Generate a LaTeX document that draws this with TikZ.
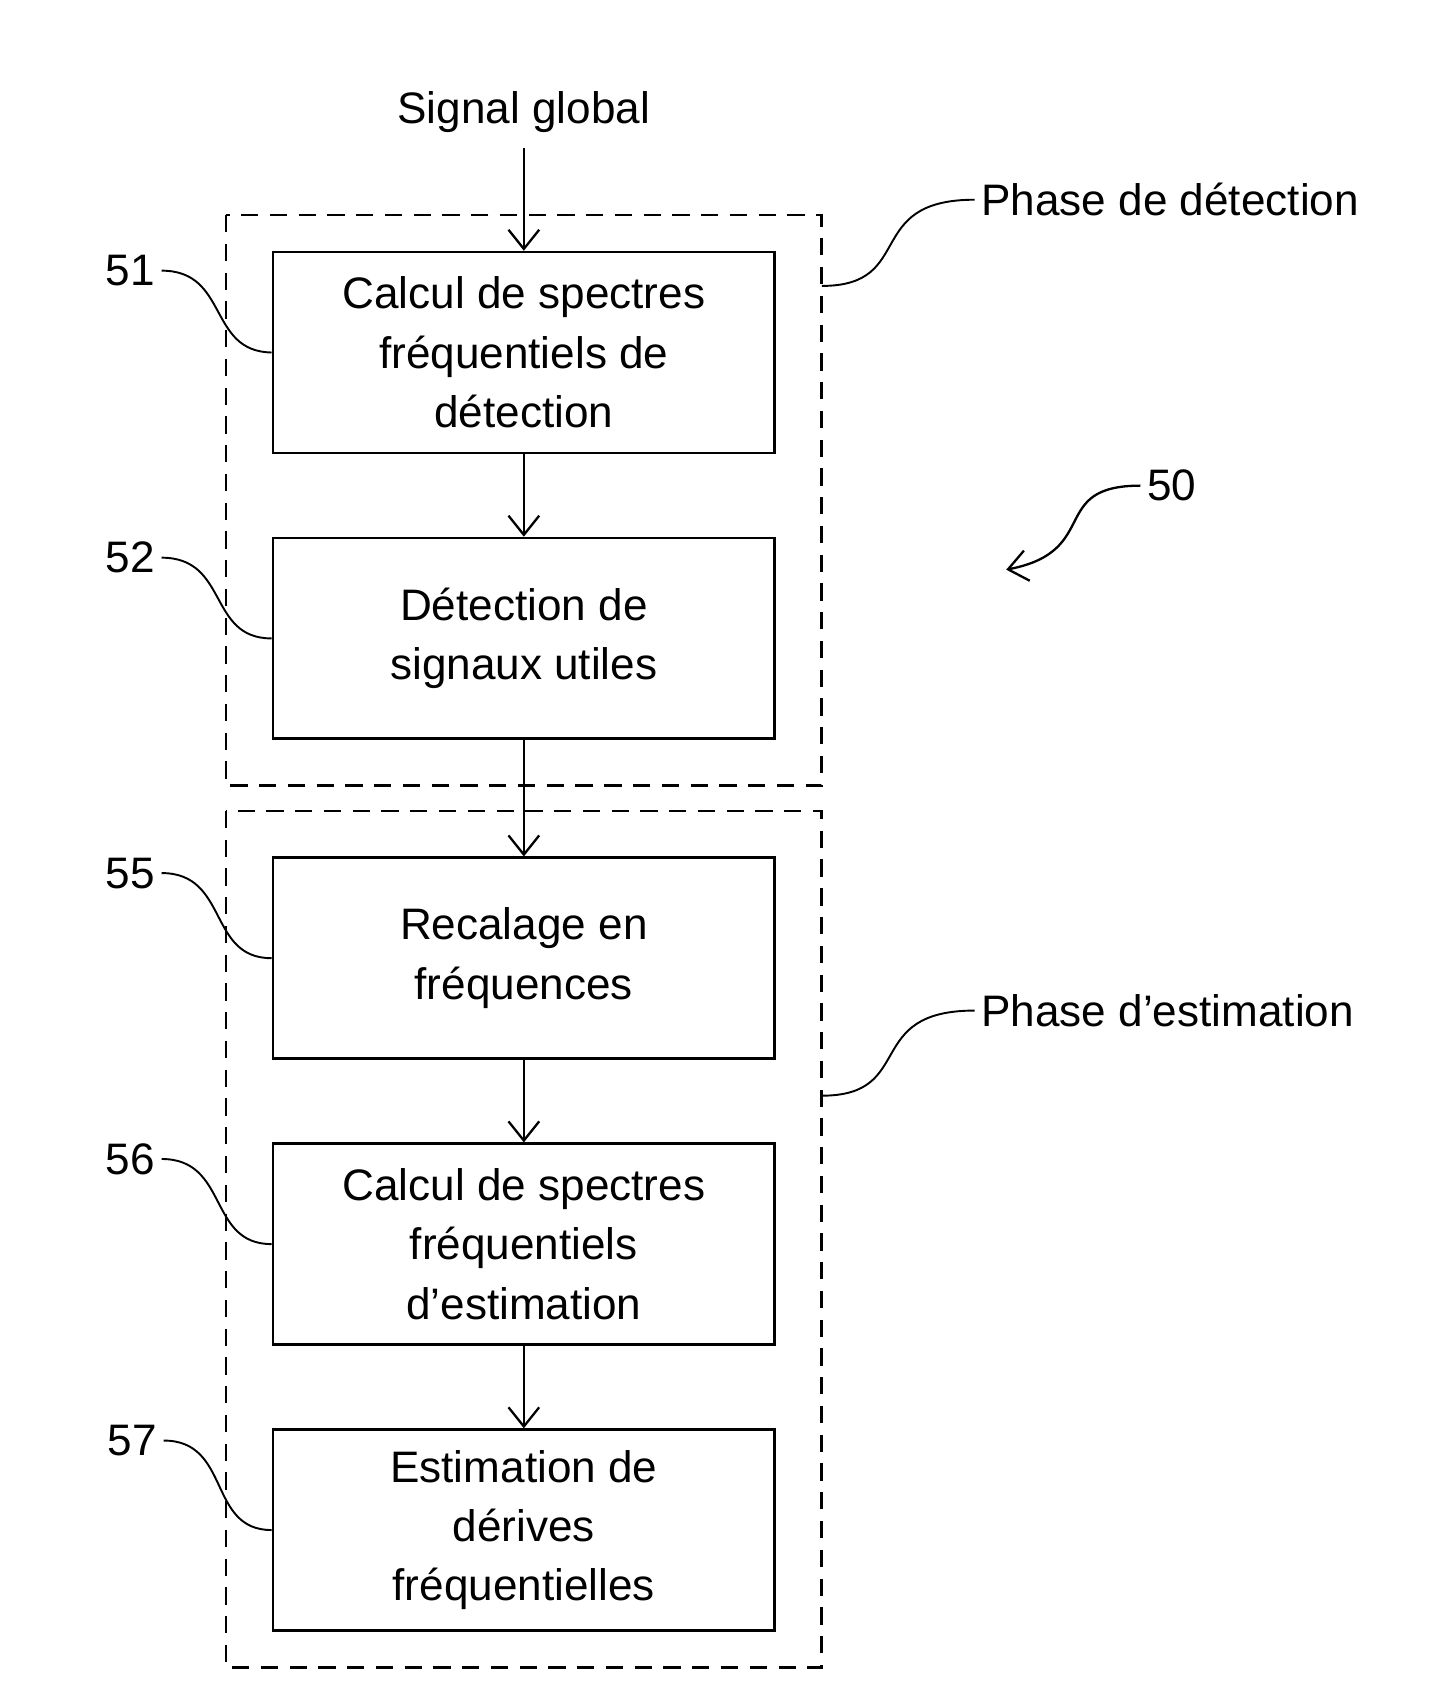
\documentclass[tikz,border=0pt]{standalone}
\usepackage{fontspec}
\setmainfont{Liberation Sans}
\usetikzlibrary{positioning,arrows.meta}

\begin{document}
\begin{tikzpicture}[x=0.02cm, y=-0.02cm, >={Straight Barb[length=10pt,width=16pt]},
    bloc/.style={draw, line width=1.4pt, minimum width=9.2cm, minimum height=3.68cm, align=center, font=\fontsize{23}{31}\selectfont},
    phase/.style={draw, dashed, line width=1.4pt, dash pattern=on 9pt off 6pt},
    lbl/.style={font=\fontsize{23}{28}\selectfont},
    fleche/.style={->, line width=1.2pt}]
    \useasboundingbox (0,0) rectangle (1330,1555);

    % Phases
    \draw[phase] (207,197) rectangle (753,720);
    \draw[phase] (207,743) rectangle (753,1528);
    \coordinate (pd) at (753,262);
    \coordinate (pe) at (753,1004);

    % Blocs
    \node[bloc] (calcdet) at (480,323) {Calcul de spectres\\fréquentiels de\\détection};
    \node[bloc] (detect) at (480,585) {Détection de\\signaux utiles};
    \node[bloc] (recal) at (480,878) {Recalage en\\fréquences};
    \node[bloc] (calcest) at (480,1140) {Calcul de spectres\\fréquentiels\\d’estimation};
    \node[bloc] (derive) at (480,1402) {Estimation de\\dérives\\fréquentielles};

    % Entree
    \node[lbl] (signal) at (480,103) {Signal global};
    \draw[fleche] (signal.south) ++(0,8) coordinate (s0) (s0) -- (calcdet.north);

    % Fleches
    \draw[fleche] (calcdet) -- (detect);
    \draw[fleche] (detect) -- (recal);
    \draw[fleche] (recal) -- (calcest);
    \draw[fleche] (calcest) -- (derive);

    % Reperes
    \node[lbl, anchor=east] (n51) at (148,248) {51};
    \node[lbl, anchor=east] (n52) at (148,511) {52};
    \node[lbl, anchor=east] (n55) at (148,800) {55};
    \node[lbl, anchor=east] (n56) at (148,1062) {56};
    \node[lbl, anchor=east] (n57) at (150,1320) {57};
    \draw[line width=1pt] (n51.east) .. controls (210,248) and (190,322) .. (calcdet.west);
    \draw[line width=1pt] (n52.east) .. controls (210,511) and (190,585) .. (detect.west);
    \draw[line width=1pt] (n55.east) .. controls (210,800) and (190,878) .. (recal.west);
    \draw[line width=1pt] (n56.east) .. controls (210,1062) and (190,1140) .. (calcest.west);
    \draw[line width=1pt] (n57.east) .. controls (212,1320) and (190,1402) .. (derive.west);

    % Noms des phases
    \node[lbl, anchor=west] (nomdet) at (893,183) {Phase de détection};
    \node[lbl, anchor=west] (nomest) at (893,926) {Phase d’estimation};
    \draw[line width=1pt] (pd) .. controls (840,262) and (790,183) .. (nomdet.west);
    \draw[line width=1pt] (pe) .. controls (840,1004) and (790,926) .. (nomest.west);

    % Reference 50
    \node[lbl, anchor=west] (n50) at (1045,445) {50};
    \coordinate (p50) at (922,522);
    \draw[fleche] (n50.west) .. controls (960,445) and (1010,505) .. (p50);
\end{tikzpicture}
\end{document}
